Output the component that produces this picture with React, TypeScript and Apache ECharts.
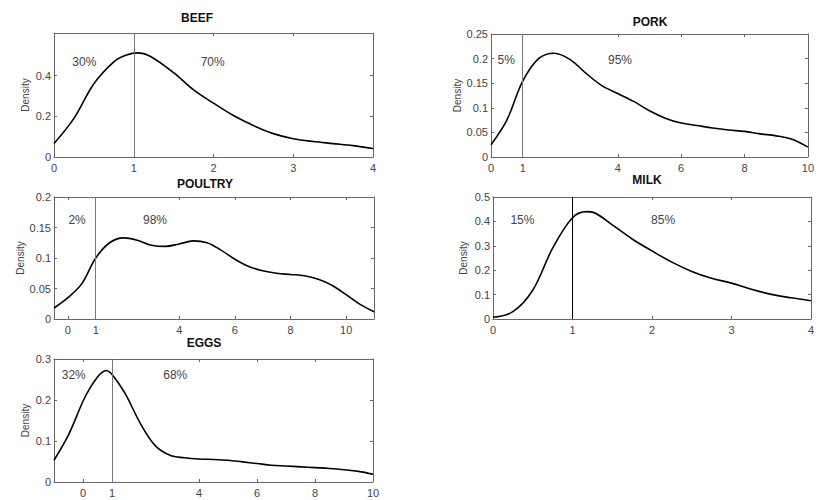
import React, { useEffect, useRef } from "react";
import * as echarts from "echarts";

// Kernel density estimates per product (x = ratio, y = density)
const beefX = [0, 0.25, 0.5, 0.75, 0.9, 1.05, 1.2, 1.5, 1.75, 2.0, 2.25, 2.5, 2.75, 3.0, 3.25, 3.5, 3.75, 4.0];
const beefY = [0.066, 0.19, 0.36, 0.468, 0.5, 0.512, 0.497, 0.415, 0.33, 0.265, 0.204, 0.155, 0.115, 0.09, 0.076, 0.066, 0.056, 0.042];

const porkX = [0, 0.5, 1.0, 1.5, 2.0, 2.5, 3.0, 3.5, 4.0, 4.5, 5.0, 5.5, 6.0, 6.5, 7.0, 7.5, 8.0, 8.5, 9.0, 9.5, 10];
const porkY = [0.025, 0.075, 0.154, 0.2, 0.211, 0.198, 0.17, 0.145, 0.129, 0.113, 0.094, 0.079, 0.069, 0.064, 0.059, 0.055, 0.052, 0.047, 0.043, 0.036, 0.02];

const poultryX = [-0.5, 0, 0.5, 1.0, 1.5, 2.0, 2.5, 3.0, 3.5, 4.0, 4.5, 5.0, 5.5, 6.0, 6.5, 7.0, 7.5, 8.0, 8.5, 9.0, 9.5, 10.0, 10.5, 11];
const poultryY = [0.018, 0.035, 0.058, 0.1, 0.125, 0.133, 0.129, 0.121, 0.119, 0.123, 0.128, 0.125, 0.113, 0.098, 0.086, 0.079, 0.075, 0.073, 0.071, 0.065, 0.055, 0.04, 0.024, 0.012];

const milkX = [0, 0.25, 0.5, 0.75, 1.0, 1.18, 1.25, 1.5, 1.75, 2.0, 2.25, 2.5, 2.75, 3.0, 3.25, 3.5, 3.75, 4.0];
const milkY = [0.007, 0.03, 0.118, 0.29, 0.415, 0.44, 0.438, 0.386, 0.328, 0.279, 0.233, 0.195, 0.167, 0.147, 0.122, 0.101, 0.087, 0.075];

const eggsX = [-1, -0.5, 0, 0.25, 0.5, 0.65, 0.8, 0.95, 1.1, 1.3, 1.5, 2.0, 2.5, 3.0, 3.5, 4, 4.5, 5, 5.5, 6, 6.5, 7, 7.5, 8, 8.5, 9, 9.5, 10];
const eggsY = [0.053, 0.115, 0.197, 0.23, 0.256, 0.267, 0.272, 0.266, 0.253, 0.233, 0.21, 0.14, 0.088, 0.065, 0.059, 0.056, 0.055, 0.053, 0.049, 0.045, 0.041, 0.039, 0.037, 0.035, 0.033, 0.03, 0.026, 0.019];

// Tick values
const beefXTicks = [0, 1, 2, 3, 4];
const beefYTicks = [0, 0.2, 0.4];
const porkXTicks = [0, 1, 4, 6, 8, 10];
const porkYTicks = [0, 0.05, 0.1, 0.15, 0.2, 0.25];
const poultryXTicks = [0, 1, 4, 6, 8, 10];
const poultryYTicks = [0, 0.05, 0.1, 0.15, 0.2];
const milkXTicks = [0, 1, 2, 3, 4];
const milkYTicks = [0, 0.1, 0.2, 0.3, 0.4, 0.5];
const eggsXTicks = [0, 1, 4, 6, 8, 10];
const eggsYTicks = [0, 0.1, 0.2, 0.3];

// Share of the distribution below / above 1
const beefShares = ["30%", "70%"];
const porkShares = ["5%", "95%"];
const poultryShares = ["2%", "98%"];
const milkShares = ["15%", "85%"];
const eggsShares = ["32%", "68%"];

const FONT = "Liberation Sans, Arial, sans-serif";
const AXIS_COLOR = "#666";
const TEXT_COLOR = "#444";

type Panel = {
  title: string;
  titlePos: [number, number];
  box: { left: number; top: number; width: number; height: number };
  xs: number[];
  ys: number[];
  xMin: number;
  xMax: number;
  yMax: number;
  xTicks: number[];
  yTicks: number[];
  shares: string[];
  shareAt: [number, number][];
  refColor: string;
  nameGap: number;
};

const panels: Panel[] = [
  {
    title: "BEEF", titlePos: [197, 18],
    box: { left: 54, top: 33, width: 319, height: 124 },
    xs: beefX, ys: beefY, xMin: 0, xMax: 4, yMax: 0.61,
    xTicks: beefXTicks, yTicks: beefYTicks,
    shares: beefShares, shareAt: [[0.38, 0.465], [1.99, 0.465]],
    refColor: "#777", nameGap: 24,
  },
  {
    title: "PORK", titlePos: [650, 22],
    box: { left: 491, top: 34, width: 324, height: 123 },
    xs: porkX, ys: porkY, xMin: 0, xMax: 10, yMax: 0.25,
    xTicks: porkXTicks, yTicks: porkYTicks,
    shares: porkShares, shareAt: [[0.48, 0.198], [4.07, 0.198]],
    refColor: "#777", nameGap: 29,
  },
  {
    title: "POULTRY", titlePos: [205, 184],
    box: { left: 54, top: 197, width: 320, height: 122 },
    xs: poultryX, ys: poultryY, xMin: -0.5, xMax: 11, yMax: 0.2,
    xTicks: poultryXTicks, yTicks: poultryYTicks,
    shares: poultryShares, shareAt: [[0.33, 0.162], [3.13, 0.162]],
    refColor: "#777", nameGap: 27,
  },
  {
    title: "MILK", titlePos: [647, 180],
    box: { left: 493, top: 197, width: 319, height: 122 },
    xs: milkX, ys: milkY, xMin: 0, xMax: 4, yMax: 0.5,
    xTicks: milkXTicks, yTicks: milkYTicks,
    shares: milkShares, shareAt: [[0.37, 0.405], [2.14, 0.405]],
    refColor: "#000", nameGap: 25,
  },
  {
    title: "EGGS", titlePos: [204, 343],
    box: { left: 54, top: 359, width: 319, height: 123 },
    xs: eggsX, ys: eggsY, xMin: -1, xMax: 10, yMax: 0.3,
    xTicks: eggsXTicks, yTicks: eggsYTicks,
    shares: eggsShares, shareAt: [[-0.32, 0.261], [3.18, 0.261]],
    refColor: "#777", nameGap: 24,
  },
];

function buildOption() {
  const grid: any[] = [];
  const xAxis: any[] = [];
  const yAxis: any[] = [];
  const series: any[] = [];
  const graphic: any[] = [];

  panels.forEach((p, i) => {
    grid.push({ ...p.box, containLabel: false });

    const xBase = {
      type: "value",
      gridIndex: i,
      min: p.xMin,
      max: p.xMax,
      splitLine: { show: false },
      axisLine: { show: true, onZero: false, lineStyle: { color: AXIS_COLOR, width: 1 } },
      axisTick: { show: true, inside: true, length: 3, customValues: p.xTicks, lineStyle: { color: AXIS_COLOR } },
    };
    xAxis.push({
      ...xBase,
      position: "bottom",
      axisLabel: {
        show: true, customValues: p.xTicks, margin: 5,
        color: TEXT_COLOR, fontSize: 11, fontFamily: FONT,
        formatter: (v: number) => String(v),
      },
    });
    xAxis.push({ ...xBase, position: "top", axisLabel: { show: false } });

    const yBase = {
      type: "value",
      gridIndex: i,
      min: 0,
      max: p.yMax,
      splitLine: { show: false },
      axisLine: { show: true, onZero: false, lineStyle: { color: AXIS_COLOR, width: 1 } },
      axisTick: { show: true, inside: true, length: 3, customValues: p.yTicks, lineStyle: { color: AXIS_COLOR } },
    };
    yAxis.push({
      ...yBase,
      position: "left",
      name: "Density",
      nameLocation: "middle",
      nameRotate: 90,
      nameGap: p.nameGap,
      nameTextStyle: { color: TEXT_COLOR, fontSize: 10, fontFamily: FONT },
      axisLabel: {
        show: true, customValues: p.yTicks, margin: 3,
        color: TEXT_COLOR, fontSize: 11, fontFamily: FONT,
        formatter: (v: number) => String(+v.toFixed(2)),
      },
    });
    yAxis.push({ ...yBase, position: "right", axisLabel: { show: false } });

    series.push({
      type: "line",
      xAxisIndex: 2 * i,
      yAxisIndex: 2 * i,
      data: p.xs.map((x, k) => [x, p.ys[k]]),
      smooth: 0.35,
      showSymbol: false,
      symbol: "none",
      lineStyle: { color: "#000", width: 1.6 },
      silent: true,
      markLine: {
        silent: true,
        symbol: "none",
        label: { show: false },
        lineStyle: { color: p.refColor, width: 1, type: "solid" },
        data: [{ xAxis: 1 }],
      },
      markPoint: {
        silent: true,
        symbol: "circle",
        symbolSize: 0,
        label: {
          show: true, position: "inside", formatter: "{b}",
          color: TEXT_COLOR, fontSize: 12, fontFamily: FONT,
        },
        data: p.shares.map((s, k) => ({ name: s, coord: p.shareAt[k] })),
      },
    });

    graphic.push({
      type: "text",
      x: p.titlePos[0],
      y: p.titlePos[1],
      style: {
        text: p.title,
        fill: "#111",
        font: `bold 12px ${FONT}`,
        textAlign: "center",
        textVerticalAlign: "middle",
      },
    });
  });

  return {
    animation: false,
    backgroundColor: "#fff",
    grid,
    xAxis,
    yAxis,
    series,
    graphic,
  };
}

export default function App() {
  const ref = useRef<HTMLDivElement>(null);

  useEffect(() => {
    if (!ref.current) return;
    const chart = echarts.init(ref.current, undefined, { renderer: "svg" });
    chart.setOption(buildOption());
    return () => chart.dispose();
  }, []);

  return (
    <div
      ref={ref}
      style={{ position: "fixed", left: 0, top: 0, width: 817, height: 500, background: "#fff" }}
    />
  );
}
